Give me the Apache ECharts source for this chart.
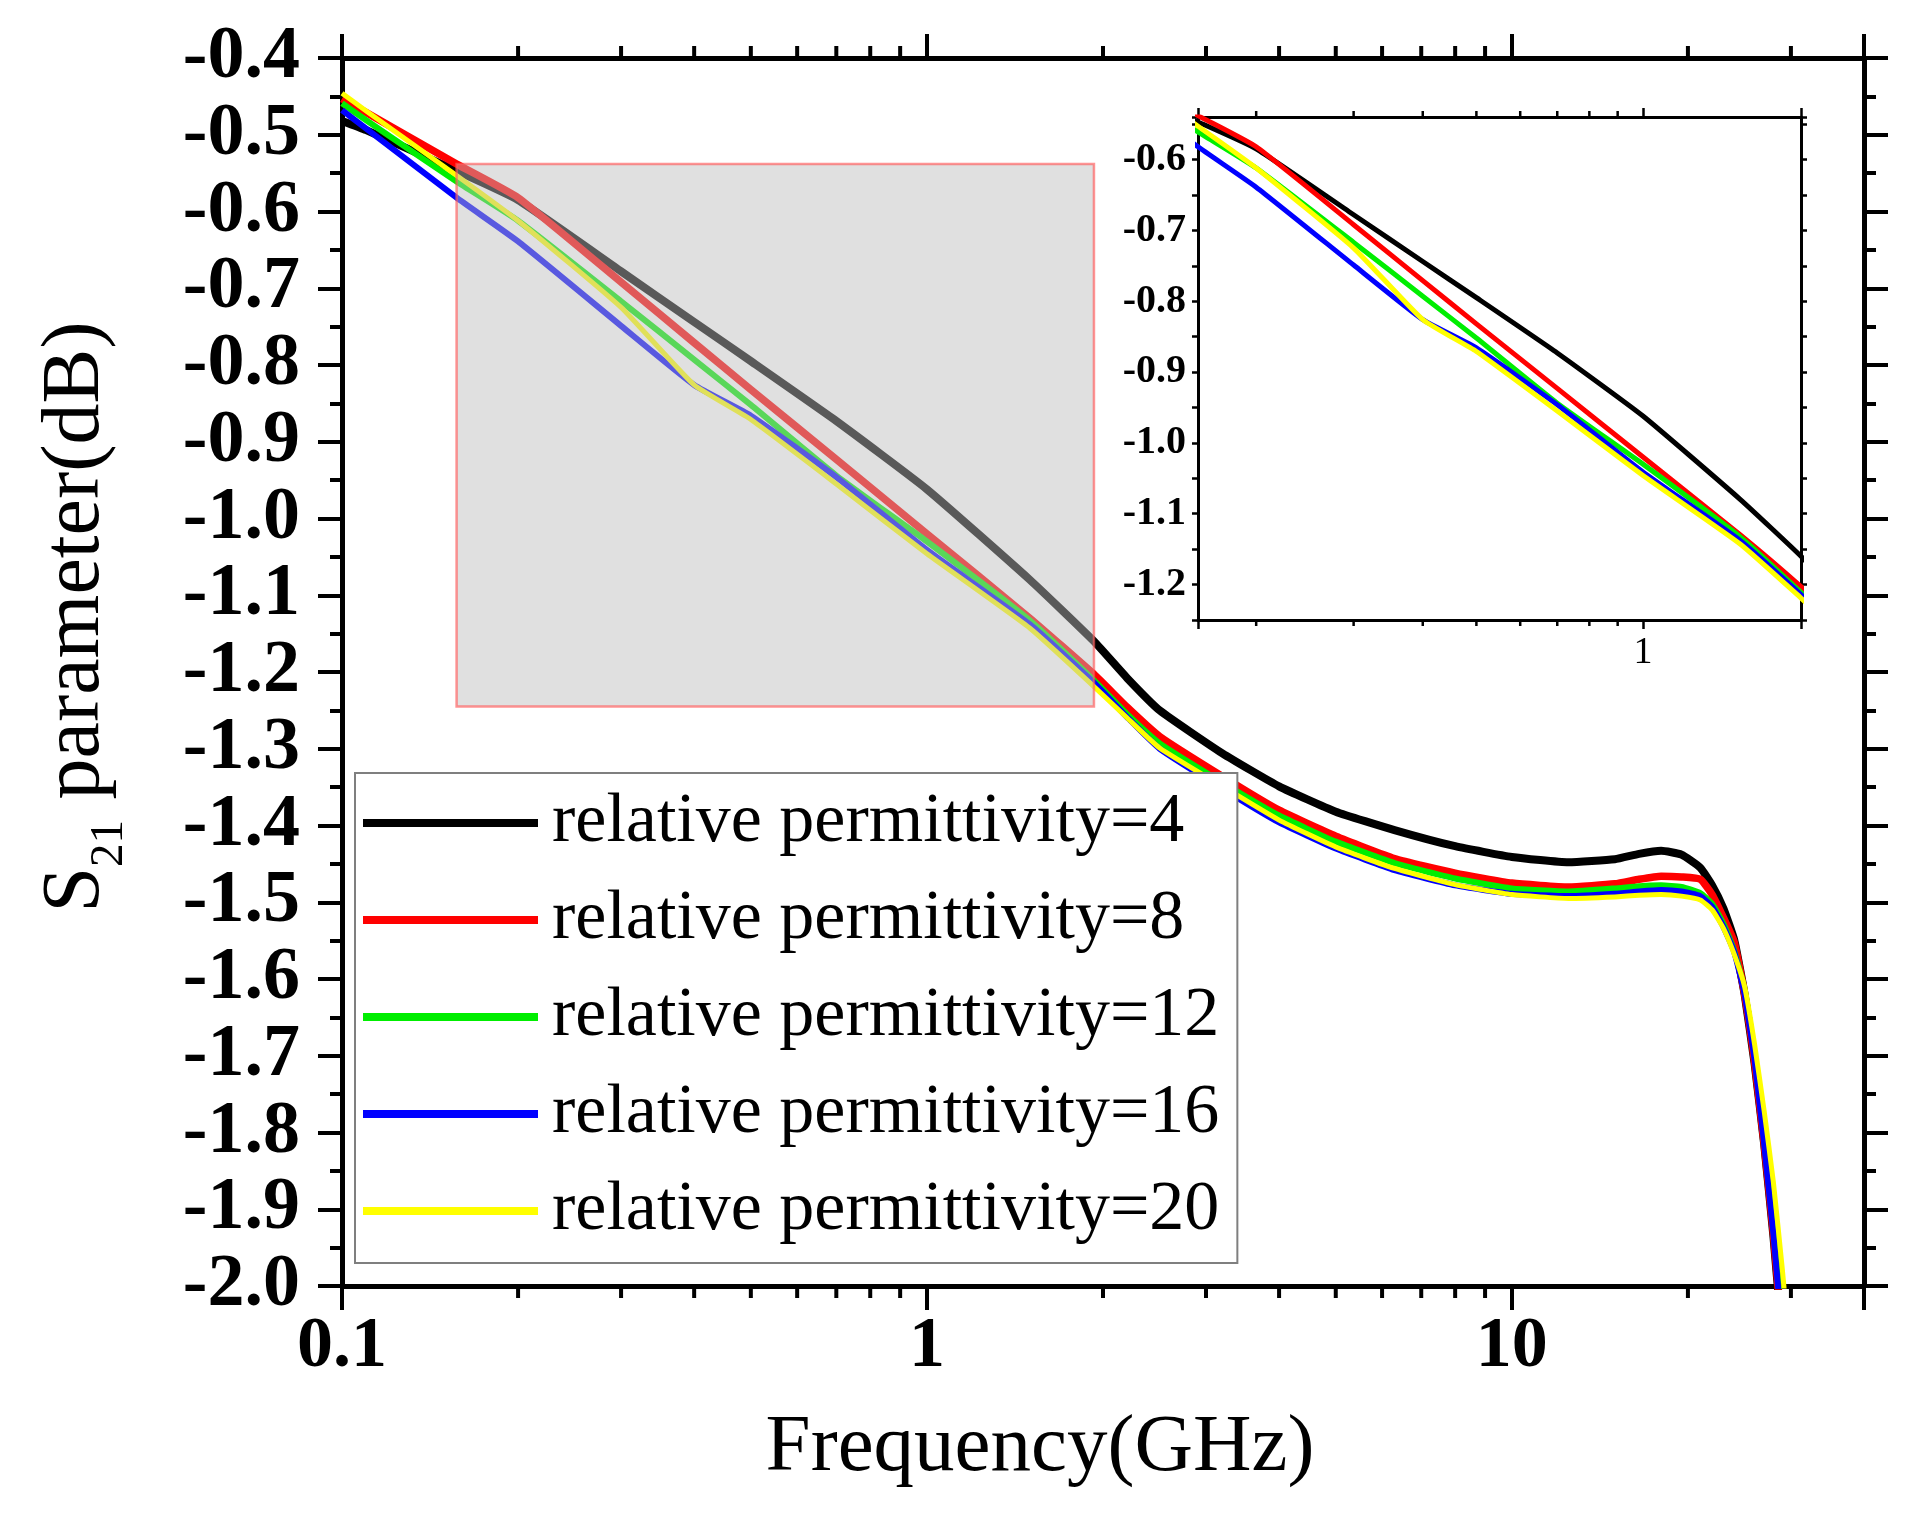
<!DOCTYPE html>
<html>
<head>
<meta charset="utf-8">
<script src="https://cdn.jsdelivr.net/npm/echarts@6/dist/echarts.min.js"></script>
<style>
  html, body { margin: 0; padding: 0; background: #fff; }
  #chart { width: 1928px; height: 1518px; }
</style>
</head>
<body>
<div id="chart"></div>
<script>
var SERIF = 'Liberation Serif';

// frequency points (GHz), shared by all curves
var FREQ = [0.1, 0.11, 0.157, 0.2, 0.3, 0.4, 0.5, 0.7, 1.0, 1.5, 1.93,
            2.2, 2.5, 3.2, 4, 5, 6.3, 8, 10,
            12.5, 15, 16.5, 18, 19.5, 21, 22, 23, 24,
            25, 26, 27, 28, 29, 30];

// S21 (dB)
var EPS4  = [-0.482, -0.494, -0.547, -0.585, -0.678, -0.744, -0.795, -0.873, -0.962, -1.080, -1.160,
             -1.208, -1.250, -1.306, -1.349, -1.382, -1.406, -1.427, -1.441,
             -1.448, -1.444, -1.437, -1.433, -1.438, -1.455, -1.478, -1.508, -1.549,
             -1.620, -1.710, -1.815, -1.935, -2.07, -2.2];
var EPS8  = [-0.453, -0.471, -0.538, -0.582, -0.692, -0.771, -0.832, -0.923, -1.020, -1.130, -1.203,
             -1.246, -1.284, -1.336, -1.380, -1.414, -1.443, -1.462, -1.475,
             -1.480, -1.476, -1.470, -1.466, -1.467, -1.470, -1.490, -1.520, -1.552,
             -1.620, -1.708, -1.815, -1.932, -2.065, -2.2];
var EPS12 = [-0.459, -0.481, -0.561, -0.612, -0.717, -0.793, -0.852, -0.944, -1.030, -1.133, -1.211,
             -1.255, -1.293, -1.344, -1.387, -1.421, -1.449, -1.469, -1.482,
             -1.486, -1.482, -1.479, -1.478, -1.480, -1.488, -1.502, -1.528, -1.563,
             -1.615, -1.700, -1.808, -1.925, -2.05, -2.18];
var EPS16 = [-0.468, -0.492, -0.582, -0.639, -0.749, -0.826, -0.866, -0.946, -1.041, -1.138, -1.214,
             -1.259, -1.300, -1.352, -1.396, -1.430, -1.458, -1.478, -1.489,
             -1.492, -1.489, -1.486, -1.484, -1.486, -1.492, -1.506, -1.532, -1.565,
             -1.620, -1.705, -1.815, -1.932, -2.065, -2.2];
var EPS20 = [-0.446, -0.469, -0.553, -0.612, -0.725, -0.826, -0.871, -0.955, -1.046, -1.143, -1.219,
             -1.260, -1.299, -1.349, -1.393, -1.428, -1.456, -1.477, -1.490,
             -1.495, -1.493, -1.491, -1.490, -1.492, -1.497, -1.510, -1.534, -1.568,
             -1.610, -1.685, -1.772, -1.865, -1.978, -2.1];

var NAMES = ['relative permittivity=4', 'relative permittivity=8', 'relative permittivity=12',
             'relative permittivity=16', 'relative permittivity=20'];
var VALUES = [EPS4, EPS8, EPS12, EPS16, EPS20];
var COLORS = ['#000000', '#ff0000', '#00ee00', '#0000ff', '#ffff00'];
var MAIN_WIDTHS = [8, 7.5, 6, 6, 5];

// axis ticks
var X_LABELS = [0.1, 1, 10];
var X_MINOR = [0.2, 0.3, 0.4, 0.5, 0.6, 0.7, 0.8, 0.9, 2, 3, 4, 5, 6, 7, 8, 9, 20, 30];
var INSET_X_LABELS = [1];
var INSET_X_MINOR = [0.2, 0.3, 0.4, 0.5, 0.6, 0.7, 0.8, 0.9];

// zoomed region: [f1, s1, f2, s2]
var ZOOM_BOX = [0.157, -0.538, 1.93, -1.245];

function pairs(vals) {
    return FREQ.map(function (f, i) { return [f, vals[i]]; });
}

function pickLabel(list) {
    return function (v) {
        for (var i = 0; i < list.length; i++) {
            if (Math.abs(v - list[i]) / list[i] < 1e-6) return String(list[i]);
        }
        return '';
    };
}

function tenths(v) {
    var r = Math.round(v * 10);
    return Math.abs(v * 10 - r) < 1e-6 ? (r / 10).toFixed(1) : '';
}

// short ticks at 2..9 on the log axes (top and bottom)
function minorTicks(len, width) {
    return function (params, api) {
        var cs = params.coordSys;
        var x = api.coord([api.value(0), api.value(1)])[0];
        var top = cs.y, bottom = cs.y + cs.height;
        return {
            type: 'group',
            children: [
                { type: 'line', shape: { x1: x, y1: bottom, x2: x, y2: bottom + len },
                  style: { stroke: '#000', lineWidth: width } },
                { type: 'line', shape: { x1: x, y1: top, x2: x, y2: top - len },
                  style: { stroke: '#000', lineWidth: width } }
            ]
        };
    };
}

function logAxis(grid, pos, min, max, lw, tickLen, tickW, label) {
    return {
        type: 'log', logBase: 10, gridIndex: grid, position: pos, min: min, max: max,
        axisLine: { show: true, onZero: false, lineStyle: { color: '#000', width: lw } },
        axisTick: { show: true, inside: false, length: tickLen, lineStyle: { color: '#000', width: tickW } },
        axisLabel: label || { show: false },
        splitLine: { show: false }
    };
}

function valAxis(grid, pos, min, max, interval, lw, tickLen, tickW, minor, label) {
    return {
        type: 'value', gridIndex: grid, position: pos, min: min, max: max, interval: interval,
        axisLine: { show: true, onZero: false, lineStyle: { color: '#000', width: lw } },
        axisTick: { show: true, inside: false, length: tickLen, lineStyle: { color: '#000', width: tickW } },
        minorTick: minor ? { show: true, splitNumber: 2, length: minor, lineStyle: { color: '#000', width: tickW } } : { show: false },
        axisLabel: label || { show: false },
        splitLine: { show: false },
        minorSplitLine: { show: false }
    };
}

var chart = echarts.init(document.getElementById('chart'));

var xMain = logAxis(0, 'bottom', 0.1, 40, 5, 24, 4, {
    formatter: pickLabel(X_LABELS), fontFamily: SERIF, fontWeight: 'bold', fontSize: 72, color: '#000', margin: 25
});
xMain.name = 'Frequency(GHz)';
xMain.nameLocation = 'middle';
xMain.nameGap = 122;
xMain.nameTextStyle = { fontFamily: SERIF, fontSize: 81, lineHeight: 81, color: '#000', padding: [0, 126, 0, 0] };

var yMain = valAxis(0, 'left', -2.0, -0.4, 0.1, 5, 24, 4, 12, {
    formatter: function (v) { return v.toFixed(1); },
    fontFamily: SERIF, fontWeight: 'bold', fontSize: 74, color: '#000', margin: 42
});
yMain.name = '{s|S}{sub|21}{s| parameter(dB)}';
yMain.nameLocation = 'middle';
yMain.nameGap = 225;
yMain.nameTextStyle = {
    fontFamily: SERIF, fontSize: 82, color: '#000', padding: [0, 0, 0, 110],
    rich: {
        s: { fontFamily: SERIF, fontSize: 82, lineHeight: 82, verticalAlign: 'top', color: '#000' },
        sub: { fontFamily: SERIF, fontSize: 47, lineHeight: 47, verticalAlign: 'top', padding: [51, 0, 0, 0], color: '#000' }
    }
};

var series = [];
NAMES.forEach(function (name, i) {
    series.push({
        name: name, type: 'line', xAxisIndex: 0, yAxisIndex: 0,
        data: pairs(VALUES[i]), showSymbol: false, smooth: 0.15,
        lineStyle: { color: COLORS[i], width: MAIN_WIDTHS[i], join: 'round' },
        itemStyle: { color: COLORS[i] }, z: 2 + i * 0.01, silent: true
    });
});
NAMES.forEach(function (name, i) {
    series.push({
        name: name, type: 'line', xAxisIndex: 2, yAxisIndex: 2,
        data: pairs(VALUES[i]), showSymbol: false, smooth: 0.15,
        lineStyle: { color: COLORS[i], width: 5, join: 'round' },
        itemStyle: { color: COLORS[i] }, z: 2 + i * 0.01, silent: true
    });
});
// grey box marking the zoomed region, drawn over the curves
series.push({
    type: 'custom', xAxisIndex: 0, yAxisIndex: 0, z: 5, silent: true,
    encode: { x: [0, 2], y: [1, 3] },
    data: [ZOOM_BOX],
    renderItem: function (params, api) {
        var p1 = api.coord([api.value(0), api.value(1)]);
        var p2 = api.coord([api.value(2), api.value(3)]);
        return {
            type: 'rect',
            shape: { x: p1[0], y: p1[1], width: p2[0] - p1[0], height: p2[1] - p1[1] },
            style: { fill: 'rgba(190,190,190,0.47)', stroke: 'rgba(255,90,90,0.65)', lineWidth: 2.5 }
        };
    }
});
series.push({
    type: 'custom', xAxisIndex: 0, yAxisIndex: 0, z: 6, silent: true, clip: false,
    data: X_MINOR.map(function (v) { return [v, -1]; }),
    renderItem: minorTicks(12, 4)
});
series.push({
    type: 'custom', xAxisIndex: 2, yAxisIndex: 2, z: 6, silent: true, clip: false,
    data: INSET_X_MINOR.map(function (v) { return [v, -0.9]; }),
    renderItem: minorTicks(6, 2.5)
});

chart.setOption({
    backgroundColor: '#fff',
    animation: false,
    grid: [
        { left: 342, top: 58, width: 1522, height: 1228, outerBoundsMode: 'none', containLabel: false },
        { left: 1198, top: 117, width: 603, height: 503, outerBoundsMode: 'none', containLabel: false,
          show: true, backgroundColor: '#fff', borderWidth: 0 }
    ],
    legend: {
        data: NAMES, orient: 'vertical', left: 355, top: 773,
        padding: [15, 18, 17, 8], itemWidth: 175, itemHeight: 8, itemGap: 27,
        icon: 'rect', selectedMode: false,
        backgroundColor: '#fff', borderColor: '#7f7f7f', borderWidth: 2,
        textStyle: { fontFamily: SERIF, fontSize: 70, lineHeight: 68, color: '#000', padding: [0, 0, 0, 9] }
    },
    xAxis: [
        xMain,
        logAxis(0, 'top', 0.1, 40, 5, 24, 4),
        logAxis(1, 'bottom', ZOOM_BOX[0], ZOOM_BOX[2], 3, 9, 2.5, {
            formatter: pickLabel(INSET_X_LABELS), fontFamily: SERIF, fontSize: 38, color: '#000', margin: 14
        }),
        logAxis(1, 'top', ZOOM_BOX[0], ZOOM_BOX[2], 3, 9, 2.5)
    ],
    yAxis: [
        yMain,
        valAxis(0, 'right', -2.0, -0.4, 0.1, 5, 24, 4, 12),
        valAxis(1, 'left', -1.25, -0.54, 0.05, 3, 6, 2.5, 0, {
            formatter: tenths, fontFamily: SERIF, fontWeight: 'bold', fontSize: 40, color: '#000', margin: 12
        }),
        valAxis(1, 'right', -1.25, -0.54, 0.05, 3, 6, 2.5, 0)
    ],
    series: series
});
</script>
</body>
</html>
